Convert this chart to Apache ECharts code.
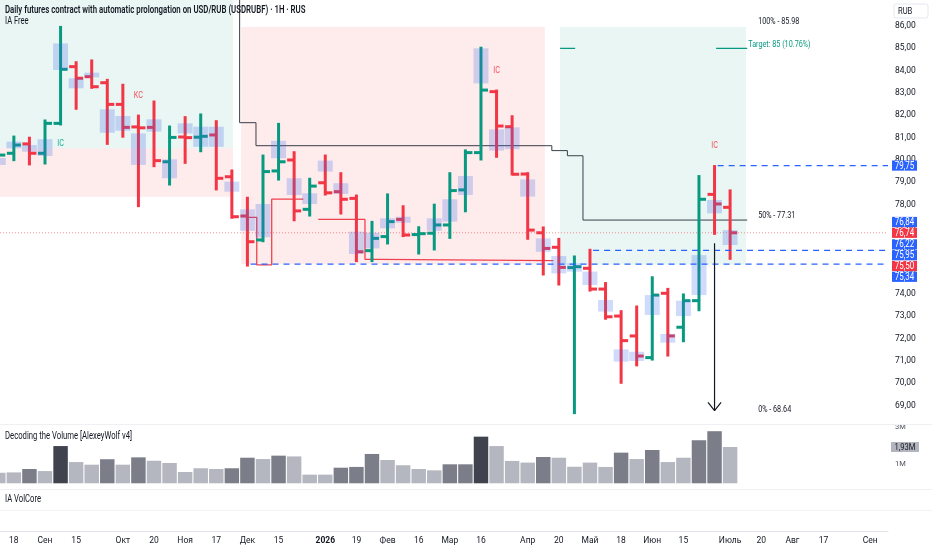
<!DOCTYPE html>
<html><head><meta charset="utf-8">
<script src="https://cdn.jsdelivr.net/npm/echarts@6/dist/echarts.min.js"></script>
<style>html,body{margin:0;padding:0;background:#fff}#c{width:932px;height:550px}</style>
</head><body><div id="c"></div>
<script>
// ---------- DATA ----------
const weeks = ['2025-08-11','2025-08-18','2025-08-25','2025-09-01','2025-09-08','2025-09-15','2025-09-22','2025-09-29',
 '2025-10-06','2025-10-13','2025-10-20','2025-10-27','2025-11-03','2025-11-10','2025-11-17','2025-11-24',
 '2025-12-01','2025-12-08','2025-12-15','2025-12-22','2025-12-29','2026-01-05','2026-01-12','2026-01-19','2026-01-26',
 '2026-02-02','2026-02-09','2026-02-16','2026-02-23','2026-03-02','2026-03-09','2026-03-16','2026-03-23','2026-03-30',
 '2026-04-06','2026-04-13','2026-04-20','2026-04-27','2026-05-04','2026-05-11','2026-05-18','2026-05-25',
 '2026-06-01','2026-06-08','2026-06-15','2026-06-22','2026-06-29','2026-07-06'];
const opens  = [80.10,80.30,80.72,80.30,81.64,84.18,83.73,83.46,82.49,81.48,81.46,79.92,81.03,81.02,81.12,79.25,
 77.49,76.42,79.51,80.00,77.79,78.98,78.58,78.28,75.94,76.57,77.34,76.66,76.72,77.09,78.66,80.33,83.06,81.49,
 79.37,76.74,76.09,75.18,75.15,74.22,73.01,72.12,71.15,74.03,72.51,73.70,78.46,77.88];
const highs  = [80.82,81.07,81.02,81.79,85.98,84.40,84.48,83.61,83.39,82.01,82.64,81.52,81.94,82.06,81.76,79.55,
 78.33,80.22,81.64,80.37,79.18,80.22,79.43,78.43,77.25,78.48,77.95,77.01,78.02,79.43,80.45,85.05,83.13,81.98,
 79.43,77.00,76.49,75.70,76.00,74.51,73.25,73.46,74.77,74.25,74.00,79.30,79.75,78.66];
const lows   = [79.55,79.97,79.78,79.82,81.57,82.27,83.21,80.70,81.02,77.91,79.70,78.88,79.85,80.37,78.66,77.39,
 75.25,76.34,79.10,77.28,77.49,78.43,77.58,75.45,75.45,76.24,76.57,75.79,75.97,76.49,77.68,80.00,80.12,79.33,
 76.45,74.85,74.40,68.64,74.13,72.87,70.00,70.78,71.04,71.22,71.86,73.25,76.67,75.55];
const closes = [80.22,80.67,80.30,81.64,84.06,83.66,83.28,82.49,81.46,81.44,79.97,81.01,81.00,81.06,79.18,77.46,
 76.34,79.48,79.92,77.72,78.83,78.53,78.24,75.89,76.49,77.24,76.64,76.70,77.09,78.63,80.33,83.13,81.52,79.36,
 76.86,76.04,75.19,75.22,74.22,72.98,71.91,71.22,73.95,72.12,73.70,78.24,78.03,76.74];
// volume-zone boxes (low, high); null = no box
const boxLo = [79.78,80.52,80.37,80.18,84.03,83.21,83.70,81.22,81.31,79.78,81.27,79.18,81.19,80.59,80.59,78.58,
 76.83,76.54,80.08,78.43,78.03,79.48,78.48,75.79,76.04,76.94,77.19,null,76.83,77.24,78.43,83.43,80.42,80.48,
 78.36,75.89,74.92,75.00,74.40,73.21,70.97,71.00,73.06,71.82,73.01,73.95,77.61,76.19];
const boxHi = [80.09,80.82,80.67,80.93,85.22,83.66,83.91,82.27,81.97,81.19,81.82,80.03,81.64,81.49,81.49,79.03,
 77.79,78.03,80.86,79.18,78.51,79.97,78.96,76.79,76.74,77.39,77.46,null,77.39,78.24,79.28,85.00,81.37,81.46,
 79.13,76.49,75.70,75.37,75.00,73.73,71.52,71.41,73.95,72.21,73.70,75.74,78.21,76.86];
// volume in millions; class 0 light, 1 medium, 2 dark
const volumes = [0.56,0.58,0.76,0.65,1.98,1.13,0.99,1.28,0.99,1.38,1.20,1.08,0.60,0.80,0.76,0.80,
 1.36,1.29,1.47,1.43,0.46,0.46,0.83,0.87,1.56,1.24,0.96,0.76,0.69,1.01,1.01,2.48,1.98,1.19,
 1.10,1.40,1.36,0.88,1.10,0.87,1.63,1.29,1.77,1.13,1.36,2.29,2.77,1.93];
const volClass = [0,0,1,0,2,0,0,1,0,1,0,0,0,0,0,1, 1,0,1,0,0,0,1,1,1,0,0,0,0,1,1,2,0,0, 0,1,0,0,0,0,1,0,1,0,0,1,1,0];

// x-axis tick labels
const tickDates = ['2025-08-18','2025-09-01','2025-09-15','2025-10-06','2025-10-20','2025-11-03','2025-11-17',
 '2025-12-01','2025-12-15','2026-01-05','2026-01-19','2026-02-02','2026-02-16','2026-03-02','2026-03-16',
 '2026-04-06','2026-04-20','2026-05-04','2026-05-18','2026-06-01','2026-06-15','2026-07-06','2026-07-20',
 '2026-08-03','2026-08-17','2026-09-07'];
const tickText = ['18','Сен','15','Окт','20','Ноя','17','Дек','15','2026','19','Фев','16','Мар','16','Апр',
 '20','Май','18','Июн','15','Июль','20','Авг','17','Сен'];
const priceTicks = [69,70,71,72,73,74,75,76,77,78,79,80,81,82,83,84,85,86];
const volTicks = [1,3];

// zones (week index from / to, price low / high, 1 = green, 0 = red)
const zoneX0 = [-1, -1, 15.6, 36.08];
const zoneX1 = [15.07, 15.07, 35.1, 48.02];
const zoneLo = [80.52, 78.35, 75.34, 75.32];
const zoneHi = [88.0, 80.52, 85.95, 85.95];
const zoneKind = [1, 0, 0, 1];

// black step line
const stepX = [15.5, 15.5, 16.55, 16.55, 35.55, 35.55, 36.55, 36.55, 37.55, 37.55, 48.1];
const stepY = [88.0, 81.67, 81.67, 80.64, 80.64, 80.42, 80.42, 80.19, 80.19, 77.31, 77.31];
// red levels
const red1X = [16.05, 16.6, 16.6, 17.56, 17.56, 19.59];
const red1Y = [77.43, 77.43, 75.30, 75.30, 78.25, 78.25];
const red2X = [20.55, 23.55, 23.55, 24.52, 24.52, 35.65];
const red2Y = [77.34, 77.34, 75.55, 75.55, 75.49, 75.49];
// blue dashed levels
const dashStart = [46.2, 38.2, 16.2];
const dashPrice = [79.75, 75.95, 75.34];
// price tags on the axis
const tagVals = [79.75, 76.84, 76.74, 76.22, 75.95, 75.50, 75.34];
const tagRed  = [0, 0, 1, 0, 0, 1, 0];
const tagAnchor = 2;
// signals
const sigIdx = [4, 9, 32, 46];
const sigPrice = [80.72, 82.87, 83.98, 80.64];
const sigText = ['IC', 'KC', 'IC', 'IC'];
const sigUp = [1, 0, 0, 0];
// fib / target
const fibLevels = [85.98, 77.31, 68.64];
const fibText = ['100% - 85.98', '50% - 77.31', '0% - 68.64'];
const targetPrice = 85;
const targetText = 'Target: 85 (10.76%)';
const targetSegX = [[36.08, 37.05], [46.1, 48.1]];
const arrowX = 46, arrowTop = 76.27, arrowBottom = 68.78;
const lastPrice = 76.74;

// ---------- SETUP ----------
const FONT = "Roboto,'Noto Sans',sans-serif";
const SX = 0.76; // horizontal text compression of the reference
const GREEN = '#089981', RED = '#f23645', BLUE = '#2962ff', TXT = '#131722';
const X_MIN = 0.11, X_MAX = 57.14;
const wi = d => Math.round((Date.parse(d) - Date.parse(weeks[0])) / 864e5) / 7;
const tickPos = tickDates.map(wi);
const fmt2 = v => v.toFixed(2).replace('.', ',');

const chart = echarts.init(document.getElementById('c'));

function clip(shape, cs) {
  return echarts.graphic.clipRectByRect(shape, {x: cs.x, y: cs.y, width: cs.width, height: cs.height});
}
function txt(x, y, text, fill, size, align, sx, weight) {
  return {type: 'text', x: x, y: y, scaleX: sx || SX, scaleY: 1,
    style: {x: 0, y: 0, text: text, fill: fill, font: (weight || 'normal') + ' ' + size + 'px ' + FONT,
      align: align || 'left', verticalAlign: 'middle'}};
}

const ohlcData = weeks.map((w, i) => [i, opens[i], highs[i], lows[i], closes[i]]);
const boxData = weeks.map((w, i) => [i, boxLo[i], boxHi[i]]).filter(d => d[1] != null);
const volData = weeks.map((w, i) => [i, volumes[i], volClass[i]]);
const zoneData = zoneX0.map((x, k) => [x, zoneX1[k], zoneLo[k], zoneHi[k], zoneKind[k]]);
const pts = (xs, ys) => xs.map((x, k) => [x, ys[k]]);

function lineSeries(data, color, width, type, z, xi, yi) {
  return {type: 'line', data: data, xAxisIndex: xi || 0, yAxisIndex: yi || 0, symbol: 'none', silent: true,
    z: z || 3, lineStyle: {color: color, width: width, type: type || 'solid'}, clip: true, animation: false};
}

const series = [];
// zones
series.push({type: 'custom', xAxisIndex: 0, yAxisIndex: 0, z: 1, silent: true, data: zoneData,
  encode: {x: [0, 1], y: [2, 3]},
  renderItem(params, api) {
    const a = api.coord([api.value(0), api.value(3)]);
    const b = api.coord([api.value(1), api.value(2)]);
    const shape = clip({x: a[0], y: a[1], width: b[0] - a[0], height: b[1] - a[1]}, params.coordSys);
    if (!shape) return null;
    return {type: 'rect', shape: shape,
      style: {fill: api.value(4) ? 'rgba(8,153,129,0.09)' : 'rgba(242,54,69,0.10)'}};
  }});
// current price dotted line
series.push(lineSeries([[X_MIN, lastPrice], [X_MAX, lastPrice]], 'rgba(242,54,69,0.55)', 1, [1, 2], 2));
// black step line
series.push(lineSeries(pts(stepX, stepY), '#3b3e48', 1, 'solid', 3));
// red levels
series.push(lineSeries(pts(red1X, red1Y), '#f0414f', 1.3, 'solid', 3));
series.push(lineSeries(pts(red2X, red2Y), '#f0414f', 1.3, 'solid', 3));
// target lines
targetSegX.forEach(s => series.push(lineSeries([[s[0], targetPrice], [s[1], targetPrice]], GREEN, 1.2, 'solid', 3)));
// OHLC bars
series.push({type: 'custom', xAxisIndex: 0, yAxisIndex: 0, z: 4, silent: true, data: ohlcData,
  encode: {x: 0, y: [1, 2, 3, 4]},
  renderItem(params, api) {
    const i = api.value(0), o = api.value(1), h = api.value(2), l = api.value(3), c = api.value(4);
    const pH = api.coord([i, h]), pL = api.coord([i, l]), pO = api.coord([i, o]), pC = api.coord([i, c]);
    const w = api.size([1, 0])[0];
    const t = w * 0.45;
    const col = c >= o ? GREEN : RED;
    const st = {stroke: col, lineWidth: 3};
    const cs = params.coordSys;
    return {type: 'group', clipPath: {type: 'rect', shape: {x: cs.x, y: cs.y, width: cs.width, height: cs.height}},
      children: [
      {type: 'line', shape: {x1: pH[0], y1: pH[1] - 0.5, x2: pL[0], y2: pL[1] + 0.5}, style: st},
      {type: 'line', shape: {x1: pO[0] - t, y1: pO[1], x2: pO[0], y2: pO[1]}, style: st},
      {type: 'line', shape: {x1: pC[0], y1: pC[1], x2: pC[0] + t, y2: pC[1]}, style: st}
    ]};
  }});
// volume boxes
series.push({type: 'custom', xAxisIndex: 0, yAxisIndex: 0, z: 5, silent: true, data: boxData,
  encode: {x: 0, y: [1, 2]},
  renderItem(params, api) {
    const i = api.value(0);
    const a = api.coord([i - 0.48, api.value(2)]);
    const b = api.coord([i + 0.48, api.value(1)]);
    const shape = clip({x: a[0], y: a[1], width: b[0] - a[0], height: b[1] - a[1]}, params.coordSys);
    if (!shape) return null;
    return {type: 'rect', shape: shape, style: {fill: 'rgba(60,100,235,0.24)'}};
  }});
// blue dashed levels
dashStart.forEach((x, k) => series.push(lineSeries([[x, dashPrice[k]], [X_MAX, dashPrice[k]]], BLUE, 1.3, [6, 5], 6)));
// arrow
series.push(lineSeries([[arrowX, arrowTop], [arrowX, arrowBottom]], TXT, 1.2, 'solid', 6));
series.push(lineSeries([[arrowX - 0.42, arrowBottom + 0.37], [arrowX, arrowBottom], [arrowX + 0.42, arrowBottom + 0.37]], TXT, 1.2, 'solid', 6));
// signal texts
series.push({type: 'custom', xAxisIndex: 0, yAxisIndex: 0, z: 7, silent: true,
  data: sigIdx.map((x, k) => [x, sigPrice[k], k]), encode: {x: 0, y: 1},
  renderItem(params, api) {
    const k = api.value(2);
    const p = api.coord([api.value(0), api.value(1)]);
    return txt(p[0], p[1], sigText[k], sigUp[k] ? '#22ab94' : '#f7525f', 9.5, 'center');
  }});
// fib texts
series.push({type: 'custom', xAxisIndex: 0, yAxisIndex: 0, z: 7, silent: true,
  data: fibLevels.map((v, k) => [48.8, v, k]), encode: {x: 0, y: 1},
  renderItem(params, api) {
    const p = api.coord([api.value(0), api.value(1)]);
    return txt(p[0], p[1] - 4.5, fibText[api.value(2)], TXT, 9.5, 'left');
  }});
// target text
series.push({type: 'custom', xAxisIndex: 0, yAxisIndex: 0, z: 7, silent: true,
  data: [[targetSegX[1][1], targetPrice]], encode: {x: 0, y: 1},
  renderItem(params, api) {
    const p = api.coord([api.value(0), api.value(1)]);
    return txt(p[0] + 1, p[1] - 3.5, targetText, GREEN, 9.5, 'left');
  }});
// price tags
series.push({type: 'custom', xAxisIndex: 0, yAxisIndex: 0, z: 20, silent: true, clip: false,
  data: tagVals.map((v, k) => [X_MIN, v, k]), encode: {x: 0, y: 1},
  renderItem(params, api) {
    const k = api.value(2);
    const cs = params.coordSys;
    const H = 10.8;
    const ys = tagVals.map(v => api.coord([X_MIN, v])[1]);
    for (let j = tagAnchor - 1; j >= 0; j--) ys[j] = Math.min(ys[j], ys[j + 1] - H);
    for (let j = tagAnchor + 1; j < ys.length; j++) ys[j] = Math.max(ys[j], ys[j - 1] + H);
    const x = cs.x + cs.width + 4, y = ys[k];
    return {type: 'group', children: [
      {type: 'rect', shape: {x: x, y: y - H / 2 + 0.3, width: 25, height: H - 0.6}, style: {fill: tagRed[k] ? RED : BLUE}},
      txt(x + 12.5, y + 0.5, fmt2(tagVals[k]), '#fff', 10, 'center', 0.8)
    ]};
  }});
// volume bars
series.push({type: 'custom', xAxisIndex: 1, yAxisIndex: 1, z: 3, silent: true, data: volData,
  encode: {x: 0, y: 1},
  renderItem(params, api) {
    const i = api.value(0);
    const a = api.coord([i - 0.465, api.value(1)]);
    const b = api.coord([i + 0.465, 0]);
    const shape = clip({x: a[0], y: a[1], width: b[0] - a[0], height: b[1] - a[1]}, params.coordSys);
    if (!shape) return null;
    const cols = ['#b4b7bf', '#7b7e89', '#40434e'];
    return {type: 'rect', shape: shape, style: {fill: cols[api.value(2)]}};
  }});
// volume tag
series.push({type: 'custom', xAxisIndex: 1, yAxisIndex: 1, z: 20, silent: true, clip: false,
  data: [[X_MIN, volumes[volumes.length - 1]]], encode: {x: 0, y: 1},
  renderItem(params, api) {
    const cs = params.coordSys;
    const p = api.coord([api.value(0), api.value(1)]);
    const x = cs.x + cs.width + 3;
    return {type: 'group', children: [
      {type: 'rect', shape: {x: x, y: p[1] - 5, width: 28, height: 10}, style: {fill: '#b2b5be'}},
      txt(x + 14, p[1] + 0.5, fmt2(api.value(1)) + 'M', TXT, 9.5, 'center', 0.8)
    ]};
  }});

const hiddenX = i => ({type: 'value', gridIndex: i, min: X_MIN, max: X_MAX, show: false});

const option = {
  animation: false,
  backgroundColor: '#ffffff',
  grid: [
    {left: 0, right: 44, top: 0, height: 424},
    {left: 0, right: 44, top: 425, height: 58.3},
    {left: 0, right: 44, top: 490, height: 41.5}
  ],
  xAxis: [hiddenX(0), hiddenX(1), {
    type: 'value', gridIndex: 2, min: X_MIN, max: X_MAX,
    axisLine: {show: true, lineStyle: {color: '#e0e3eb'}}, axisTick: {show: false}, splitLine: {show: false},
    axisLabel: {customValues: tickPos, color: TXT, fontSize: 8.5, fontFamily: FONT, margin: 5,
      formatter: v => { const k = tickPos.findIndex(p => Math.abs(p - v) < 0.01); const t = tickText[k];
        return /^\d{4}$/.test(t) ? '{b|' + t + '}' : t; },
      rich: {b: {fontWeight: 'bold', fontSize: 8.5, fontFamily: FONT, color: TXT}}}
  }],
  yAxis: [
    {type: 'value', gridIndex: 0, position: 'right', min: 68.177, max: 87.164,
      axisLine: {show: false}, axisTick: {show: false}, splitLine: {show: false},
      axisLabel: {customValues: priceTicks, formatter: v => fmt2(v), color: TXT, fontSize: 8.5, fontFamily: FONT, margin: 7}},
    {type: 'value', gridIndex: 1, position: 'right', min: 0, max: 3.1,
      axisLine: {show: false}, axisTick: {show: false}, splitLine: {show: false},
      axisLabel: {customValues: volTicks, formatter: v => v + 'M', color: '#50535e', fontSize: 7.5, fontFamily: FONT, margin: 7}},
    {type: 'value', gridIndex: 2, position: 'right', min: 0, max: 1, show: false}
  ],
  series: series,
  graphic: [
    {type: 'line', shape: {x1: 0, y1: 424.5, x2: 932, y2: 424.5}, style: {stroke: '#eef0f4', lineWidth: 1}, z: 50},
    {type: 'line', shape: {x1: 0, y1: 489.5, x2: 932, y2: 489.5}, style: {stroke: '#eef0f4', lineWidth: 1}, z: 50},
    {type: 'line', shape: {x1: 0, y1: 510.5, x2: 932, y2: 510.5}, style: {stroke: '#f2f3f6', lineWidth: 1}, z: 50},
    Object.assign(txt(5, 10.5, 'Daily futures contract with automatic prolongation on USD/RUB (USDRUBF) · 1H · RUS', TXT, 10.5, 'left', 0.745, '600'), {z: 60}),
    Object.assign(txt(5, 21.5, 'IA Free', TXT, 10, 'left', 0.76), {z: 60}),
    Object.assign(txt(5, 436, 'Decoding the Volume [AlexeyWolf v4]', TXT, 10, 'left', 0.77), {z: 60}),
    Object.assign(txt(5, 499.5, 'IA VolCore', TXT, 10, 'left', 0.77), {z: 60}),
    {type: 'rect', x: 894, y: 4, z: 60, shape: {x: 0, y: 0, width: 34, height: 14, r: 2}, style: {fill: '#fff', stroke: '#e6e8ee', lineWidth: 1}},
    Object.assign(txt(898, 11.5, 'RUB', TXT, 9.5, 'left', 0.8), {z: 61})
  ]
};
chart.setOption(option);
</script></body></html>
